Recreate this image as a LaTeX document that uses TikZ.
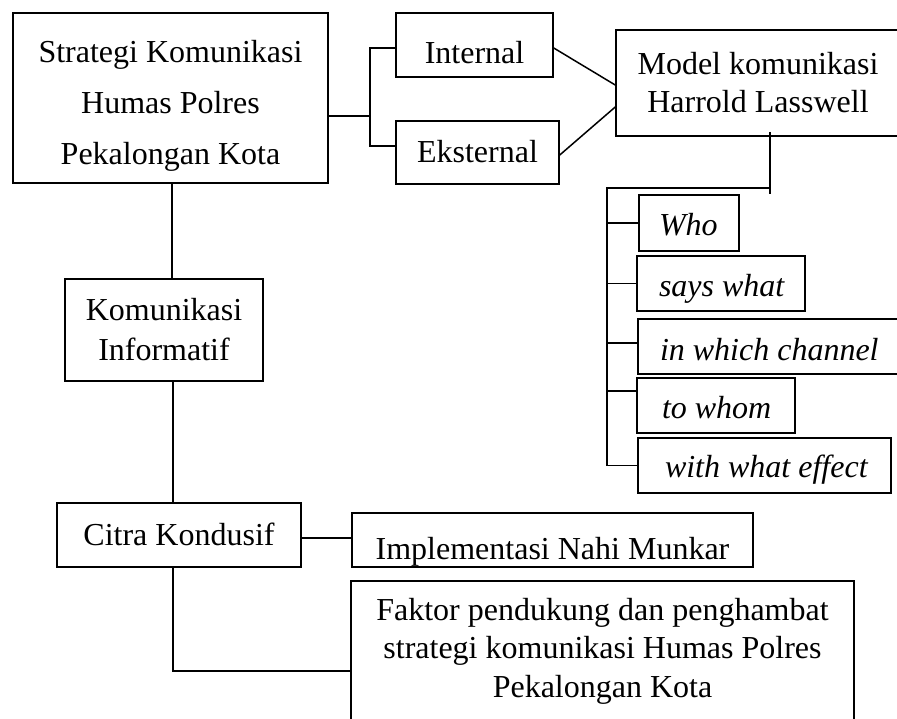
\documentclass[tikz,border=0pt]{standalone}
\usepackage{fontspec}
\setmainfont{Liberation Serif}
\begin{document}
\begin{tikzpicture}[x=1pt,y=-1pt,
  bx/.style={draw, line width=1.5pt, inner sep=0pt, font=\fontsize{32}{38}\selectfont},
  conn/.style={line width=1.5pt}]
\useasboundingbox (0,0) rectangle (897,718);
% left column
\node[bx, align=center, minimum width=315pt, minimum height=170pt, font=\fontsize{32}{51}\selectfont] (A) at (170.5,98) {\rule{0pt}{38pt}Strategi Komunikasi\\Humas Polres\\Pekalongan Kota};
\node[bx, minimum width=157pt, minimum height=64pt, text height=44pt, text depth=8pt] (Int) at (474.5,45) {Internal};
\node[bx, minimum width=163pt, minimum height=63pt, text height=27pt, text depth=8pt] (Eks) at (477.5,152.5) {Eksternal};
\node[bx, align=center, minimum width=284pt, minimum height=106pt] (Mod) at (758,83) {Model komunikasi\\Harrold Lasswell};
% Lasswell items
\node[bx, minimum width=100pt, minimum height=56pt, text height=32pt, text depth=8pt] (Who) at (689,223) {\makebox[100pt][l]{\hspace{20pt}\textit{Who}}};
\node[bx, minimum width=168pt, minimum height=55pt, text height=33pt, text depth=8pt] (Says) at (721,283.5) {\makebox[168pt][l]{\hspace{22pt}\textit{says what}}};
\node[bx, minimum width=262pt, minimum height=55pt, text height=35pt, text depth=8pt] (Chan) at (769,346.5) {\makebox[262pt][l]{\hspace{22pt}\textit{in which channel}}};
\node[bx, minimum width=158pt, minimum height=55pt, text height=33pt, text depth=8pt] (Whom) at (716,405.5) {\makebox[158pt][l]{\hspace{25pt}\textit{to whom}}};
\node[bx, minimum width=253pt, minimum height=55pt, text height=31pt, text depth=8pt] (Eff) at (764.5,465.5) {\makebox[253pt][l]{\hspace{27pt}\textit{with what effect}}};
% lower left
\node[bx, align=center, minimum width=198pt, minimum height=102pt, font=\fontsize{32}{40}\selectfont] (Kom) at (164,330) {Komunikasi\\Informatif};
\node[bx, minimum width=244pt, minimum height=64pt, text height=28pt, text depth=8pt] (Citra) at (179,535) {Citra Kondusif};
\node[bx, minimum width=401pt, minimum height=54pt, text height=46pt, text depth=8pt] (Impl) at (552.5,540) {Implementasi Nahi Munkar};
\node[bx, align=center, minimum width=503pt, minimum height=140pt, font=\fontsize{32}{38.5}\selectfont] (Fak) at (602.5,651) {Faktor pendukung dan penghambat\\strategi komunikasi Humas Polres\\Pekalongan Kota};
% connectors top
\coordinate (j1) at (370,116);
\coordinate (j1t) at (370,48);
\coordinate (j1b) at (370,146);
\draw[conn] (A.east |- j1) -- (j1);
\draw[conn] (j1t -| Int.west) -- (j1t) -- (j1b) -- (j1b -| Eks.west);
\draw[conn] ([yshift=-3pt]Int.east) -- ([yshift=-2pt]Mod.west);
\draw[conn] ([yshift=-2.5pt]Eks.east) -- ([yshift=-24pt]Mod.west);
% Lasswell bracket
\coordinate (m1) at (770,194);
\coordinate (sp) at (607,188);
\draw[conn] ([yshift=5pt]m1 |- Mod.south) -- (m1);
\draw[conn] (m1 |- sp) -- (sp) -- (sp |- Eff.west) -- (Eff.west);
\draw[conn] (sp |- Who.west) -- (Who.west);
\draw[conn] (sp |- Says.west) -- (Says.west);
\draw[conn] ([yshift=3.5pt]sp |- Chan.west) -- ([yshift=3.5pt]Chan.west);
\draw[conn] ([yshift=14.5pt]sp |- Whom.west) -- ([yshift=14.5pt]Whom.west);
% vertical chain
\coordinate (kx) at (172,0);
\coordinate (cx) at (173,0);
\draw[conn] (kx |- A.south) -- (kx |- Kom.north);
\draw[conn] (cx |- Kom.south) -- (cx |- Citra.north);
\draw[conn] ([yshift=-3pt]Citra.east) -- ([yshift=-3pt]Citra.east -| Impl.west);
\coordinate (fk) at (173,671);
\draw[conn] (fk |- Citra.south) -- (fk) -- (fk -| Fak.west);
\end{tikzpicture}
\end{document}
